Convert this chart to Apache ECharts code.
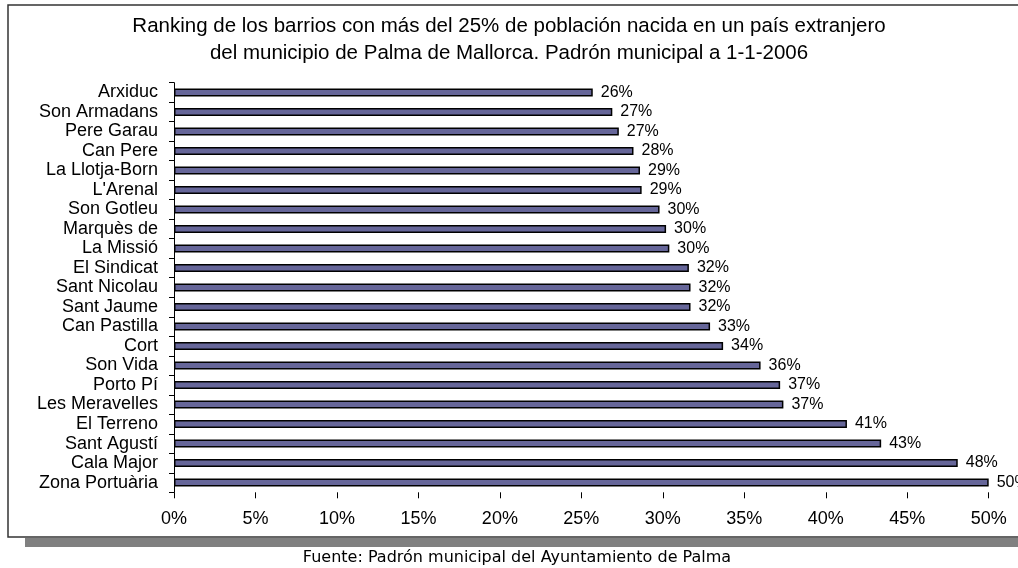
<!DOCTYPE html>
<html>
<head>
<meta charset="utf-8">
<script src="https://cdn.jsdelivr.net/npm/echarts@6/dist/echarts.min.js"></script>
<style>
html,body{margin:0;padding:0;background:#fff;}
#chart{width:1018px;height:568px;}
</style>
</head>
<body>
<div id="chart"></div>
<script>
const titleLines = [
  "Ranking de los barrios con más del 25% de población nacida en un país extranjero",
  "del municipio de Palma de Mallorca. Padrón municipal a 1-1-2006"
];
const sourceText = "Fuente: Padrón municipal del Ayuntamiento de Palma";
const barrios = [
  "Arxiduc", "Son Armadans", "Pere Garau", "Can Pere", "La Llotja-Born", "L'Arenal",
  "Son Gotleu", "Marquès de", "La Missió", "El Sindicat", "Sant Nicolau", "Sant Jaume",
  "Can Pastilla", "Cort", "Son Vida", "Porto Pí", "Les Meravelles", "El Terreno",
  "Sant Agustí", "Cala Major", "Zona Portuària"
];
const porcentajes = [
  25.7, 26.9, 27.3, 28.2, 28.6, 28.7,
  29.8, 30.2, 30.4, 31.6, 31.7, 31.7,
  32.9, 33.7, 36.0, 37.2, 37.4, 41.3,
  43.4, 48.1, 50.0
];
const xTicks = [0, 5, 10, 15, 20, 25, 30, 35, 40, 45, 50];

const chart = echarts.init(document.getElementById('chart'), null, {renderer: 'canvas'});
const option = {
  backgroundColor: '#ffffff',
  animation: false,
  title: {
    text: titleLines.join('\n'),
    left: 'center',
    top: 13,
    padding: 0,
    textStyle: {
      fontFamily: 'Liberation Sans, Arial, sans-serif',
      fontSize: 20.5,
      fontWeight: 'normal',
      color: '#000',
      lineHeight: 27
    }
  },
  graphic: [
    {type: 'rect', z: -10, shape: {x: 25, y: 538, width: 1010, height: 9}, style: {fill: '#808080'}},
    {type: 'rect', z: -9, shape: {x: 8, y: 5, width: 1030, height: 532}, style: {fill: '#ffffff', stroke: '#333333', lineWidth: 1.5}},
    {type: 'text', z: 10, x: 517, y: 558, style: {text: sourceText, fontFamily: 'DejaVu Sans, Verdana, sans-serif', fontSize: 16, fill: '#000', align: 'center', verticalAlign: 'middle'}}
  ],
  grid: {left: 174, right: 29.3, top: 82.7, bottom: 568 - 492.3, containLabel: false},
  xAxis: {
    type: 'value',
    min: xTicks[0],
    max: xTicks[xTicks.length - 1],
    interval: 5,
    axisLine: {show: false},
    axisTick: {show: true, length: 6, lineStyle: {color: '#000', width: 1}},
    splitLine: {show: false},
    axisLabel: {
      margin: 18,
      fontFamily: 'Liberation Sans, Arial, sans-serif',
      fontSize: 18,
      color: '#000',
      formatter: v => v + '%'
    }
  },
  yAxis: {
    type: 'category',
    data: barrios,
    inverse: true,
    axisLine: {show: true, lineStyle: {color: '#000', width: 1}},
    axisTick: {show: true, length: 5, interval: 0, lineStyle: {color: '#000'}},
    axisLabel: {
      interval: 0,
      margin: 16,
      fontFamily: 'Liberation Sans, Arial, sans-serif',
      fontSize: 18,
      color: '#000'
    }
  },
  series: [{
    type: 'bar',
    data: porcentajes,
    barWidth: 8,
    itemStyle: {color: '#666699', borderColor: '#000', borderWidth: 1.5},
    label: {
      show: true,
      position: 'right',
      distance: 8,
      fontFamily: 'Liberation Sans, Arial, sans-serif',
      fontSize: 16,
      color: '#000',
      formatter: p => Math.round(p.value) + '%'
    }
  }]
};
chart.setOption(option);
</script>
</body>
</html>
